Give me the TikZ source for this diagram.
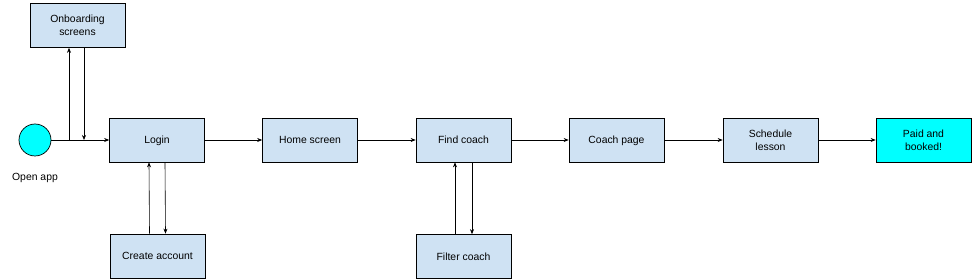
\documentclass[tikz,border=0pt]{standalone}
\usepackage{fontspec}
\setmainfont{Liberation Sans}
\usetikzlibrary{arrows.meta,calc}
\definecolor{boxblue}{HTML}{CFE2F3}
\definecolor{cyanfill}{HTML}{00FFFF}
\begin{document}
\begin{tikzpicture}[x=1pt,y=-1pt,
  box/.style={draw=black,line width=0.7pt,fill=boxblue,minimum width=95pt,minimum height=44pt,inner sep=1pt,align=center,text depth=0pt,font=\fontsize{10.4}{13}\selectfont},
  donebox/.style={box,fill=cyanfill},
  arr/.style={line width=0.6pt,-{Stealth[length=5pt,width=4pt]}},
  lbl/.style={font=\fontsize{10.4}{13}\selectfont}]
\useasboundingbox (0,0) rectangle (975,280);
\node[circle,draw=black,line width=0.7pt,fill=cyanfill,minimum size=32pt,inner sep=0pt] (open) at (35,140) {};
\node[lbl] (openlbl) at (35,178) {Open app};
\node[box] (onb) at (77.5,25.5) {Onboarding\\screens};
\node[box] (login) at (157,140) {Login};
\node[box] (create) at (157.5,256) {Create account};
\node[box] (home) at (310,140) {Home screen};
\node[box] (find) at (463.5,140) {Find coach};
\node[box] (filter) at (463.5,256.5) {Filter coach};
\node[box] (coach) at (616.5,140) {Coach page};
\node[box] (sched) at (770.5,140) {Schedule\\lesson};
\node[donebox] (paid) at (923.5,140) {Paid and\\booked!};
\coordinate (up1) at (69,140);
\coordinate (dn1) at (84,140);
\draw[arr] (open) -- (login);
\draw[arr] (up1) -- (up1 |- onb.south);
\draw[arr] (dn1 |- onb.south) -- (dn1);
\draw[arr] ($(create.north)+(-8,0)$) -- ($(login.south)+(-8,0)$);
\draw[arr] ($(login.south)+(8,0)$) -- ($(create.north)+(8,0)$);
\draw[arr] ($(filter.north)+(-8.5,0)$) -- ($(find.south)+(-8.5,0)$);
\draw[arr] ($(find.south)+(8.5,0)$) -- ($(filter.north)+(8.5,0)$);
\draw[arr] (login) -- (home);
\draw[arr] (home) -- (find);
\draw[arr] (find) -- (coach);
\draw[arr] (coach) -- (sched);
\draw[arr] (sched) -- (paid);
\end{tikzpicture}
\end{document}
